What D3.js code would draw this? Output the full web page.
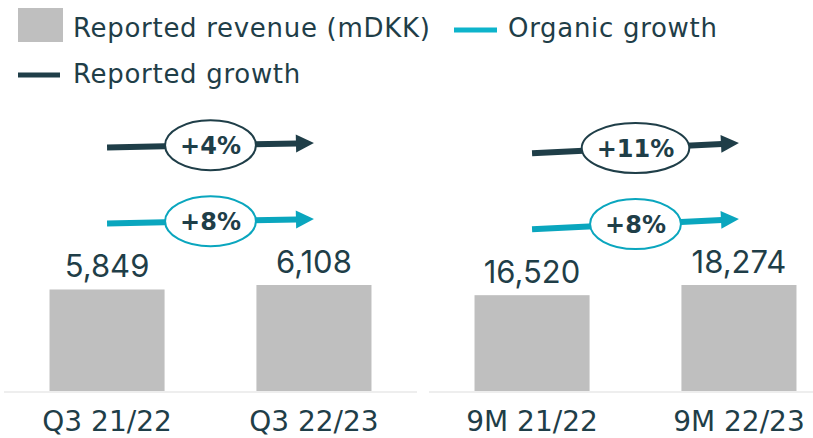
<!DOCTYPE html>
<html lang="en">
<head>
    <meta charset="utf-8">
    <title>Revenue and growth</title>
    <script src="https://cdn.jsdelivr.net/npm/d3@7"></script>
    <style>
        body { margin: 0; background: #fff; }
        svg text { font-family: Inter, "Noto Sans", sans-serif; fill: #1f3e48; }
        svg text.wide { font-family: "DejaVu Sans", Verdana, sans-serif; }
        svg text.legend-label { letter-spacing: 0.7px; }
    </style>
</head>
<body>
<div id="chart"></div>

<script>
    // data
    const quarterCategories = ["Q3 21/22", "Q3 22/23"];
    const quarterRevenue = [5849, 6108];
    const ytdCategories = ["9M 21/22", "9M 22/23"];
    const ytdRevenue = [16520, 18274];
    const reportedGrowth = ["+4%", "+11%"];
    const organicGrowth = ["+8%", "+8%"];

    const width = 813, height = 438;
    const dark = "#1f3e48", teal = "#0aa6be", barColor = "#bfbfbf";
    const baseline = 391;

    const svg = d3.select("#chart")
        .append("svg")
            .attr("width", width)
            .attr("height", height);

    // legend
    const legend = svg.append("g");
    legend.append("rect")
        .attr("x", 18).attr("y", 8)
        .attr("width", 45).attr("height", 34)
        .attr("fill", barColor);
    legend.append("text")
        .attr("class", "wide legend-label")
        .attr("x", 73).attr("y", 37)
        .style("font-size", "26px")
        .text("Reported revenue (mDKK)");
    legend.append("line")
        .attr("x1", 454).attr("x2", 497)
        .attr("y1", 30).attr("y2", 30)
        .attr("stroke", "#0db4cb").attr("stroke-width", 5);
    legend.append("text")
        .attr("class", "wide legend-label")
        .attr("x", 508).attr("y", 37)
        .style("font-size", "26px")
        .text("Organic growth");
    legend.append("line")
        .attr("x1", 18).attr("x2", 60)
        .attr("y1", 75).attr("y2", 75)
        .attr("stroke", dark).attr("stroke-width", 5);
    legend.append("text")
        .attr("class", "wide legend-label")
        .attr("x", 73).attr("y", 83)
        .style("font-size", "26px")
        .text("Reported growth");

    function drawArrow(g, x1, y1, x2, y2, color) {
        const a = Math.atan2(y2 - y1, x2 - x1);
        const head = 18;
        g.append("line")
            .attr("x1", x1).attr("y1", y1)
            .attr("x2", x2 - head * Math.cos(a) + 1)
            .attr("y2", y2 - head * Math.sin(a))
            .attr("stroke", color)
            .attr("stroke-width", 6);
        g.append("path")
            .attr("d", `M0,0 L${-head},${-9} L${-head},${9} Z`)
            .attr("fill", color)
            .attr("transform", `translate(${x2},${y2}) rotate(${a * 180 / Math.PI})`);
    }

    function drawBubble(g, cx, cy, label, color) {
        const b = g.append("g").attr("transform", `translate(${cx},${cy})`);
        const ell = b.append("ellipse")
            .attr("fill", "#fff")
            .attr("stroke", color)
            .attr("stroke-width", 2);
        const t = b.append("text")
            .attr("class", "wide")
            .attr("text-anchor", "middle")
            .attr("y", 9)
            .style("font-size", "24px")
            .style("font-weight", "bold")
            .text(label);
        const w = t.node().getComputedTextLength();
        ell.attr("rx", w / 2 + 15).attr("ry", 25);
    }

    function drawPanel(categories, revenue, reported, organic, x0, x1) {
        const g = svg.append("g");

        const x = d3.scaleBand()
            .domain(categories)
            .range([x0, x1])
            .paddingInner(0.444)
            .paddingOuter(0.22);

        const y = d3.scaleLinear()
            .domain([0, d3.max(revenue)])
            .range([baseline, 285]);

        // baseline axis
        g.append("line")
            .attr("x1", x0).attr("x2", x1)
            .attr("y1", baseline + 1).attr("y2", baseline + 1)
            .attr("stroke", "#eeeeee")
            .attr("stroke-width", 2);

        const data = categories.map((c, i) => ({cat: c, value: revenue[i]}));

        g.selectAll(".bar")
            .data(data)
            .enter()
            .append("rect")
                .attr("class", "bar")
                .attr("x", d => x(d.cat))
                .attr("y", d => y(d.value))
                .attr("width", x.bandwidth())
                .attr("height", d => baseline - y(d.value))
                .attr("fill", barColor);

        // value labels
        g.selectAll(".val")
            .data(data)
            .enter()
            .append("text")
                .attr("class", "val")
                .attr("x", d => x(d.cat) + x.bandwidth() / 2)
                .attr("y", d => y(d.value) - 12)
                .attr("text-anchor", "middle")
                .style("font-size", "31px")
                .text(d => d3.format(",")(d.value));

        // category labels
        g.selectAll(".cat")
            .data(data)
            .enter()
            .append("text")
                .attr("class", "cat wide")
                .attr("x", d => x(d.cat) + x.bandwidth() / 2)
                .attr("y", 431)
                .attr("text-anchor", "middle")
                .style("font-size", "28px")
                .text(d => d.cat);

        // growth arrows, running from bar centre to bar centre
        const cx1 = x(categories[0]) + x.bandwidth() / 2;
        const cx2 = x(categories[1]) + x.bandwidth() / 2;
        const rows = [
            {label: reported, color: dark, offset: 142},
            {label: organic, color: teal, offset: 66}
        ];
        rows.forEach(r => {
            const y1 = y(revenue[0]) - r.offset;
            const y2 = y(revenue[1]) - r.offset;
            drawArrow(g, cx1, y1, cx2, y2, r.color);
            drawBubble(g, (cx1 + cx2) / 2, (y1 + y2) / 2, r.label, r.color);
        });
    }

    drawPanel(quarterCategories, quarterRevenue, reportedGrowth[0], organicGrowth[0], 4, 417);
    drawPanel(ytdCategories, ytdRevenue, reportedGrowth[1], organicGrowth[1], 429, 842);
</script>
</body>
</html>
